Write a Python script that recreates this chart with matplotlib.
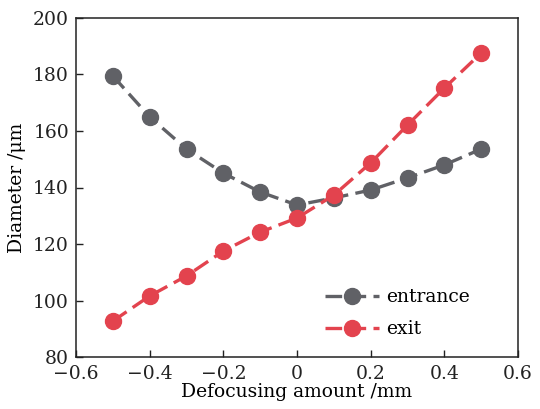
import numpy as np
import matplotlib
matplotlib.use('Agg')
import matplotlib.pyplot as plt

plt.rcParams['font.family'] = ['DejaVu Serif']
plt.rcParams['mathtext.fontset'] = 'dejavuserif'

# defocusing amount (mm) and measured hole diameters (um)
defocus = [-0.5, -0.4, -0.3, -0.2, -0.1, 0.0, 0.1, 0.2, 0.3, 0.4, 0.5]
entrance = [179.5, 165.0, 153.6, 145.1, 138.4, 133.8, 136.3, 139.1, 143.4, 148.0, 153.6]
exit_d = [92.7, 101.6, 108.7, 117.5, 124.2, 129.2, 137.3, 148.7, 162.1, 175.2, 187.6]

fig = plt.figure(figsize=(5.4, 4.09), dpi=100)
ax = fig.add_axes([76/540, 1-357/409, (518-76)/540, (357-18)/409])

ax.plot(defocus, entrance, color='#606166', lw=2.4, ls=(0, (5, 2.2)),
        marker='o', ms=11.5, label='entrance')
ax.plot(defocus, exit_d, color='#e3434e', lw=2.4, ls=(0, (5, 2.2)),
        marker='o', ms=11.5, label='exit')

ax.set_xlim(-0.6, 0.6)
ax.set_ylim(80, 200)
ax.set_xticks(np.arange(-0.6, 0.61, 0.2))
ax.set_xticklabels(['\u22120.6', '\u22120.4', '\u22120.2', '0', '0.2', '0.4', '0.6'])
ax.set_yticks(range(80, 201, 20))
ax.tick_params(direction='in', length=5, width=1, labelsize=13.5, colors='#222222')
ax.tick_params(axis='x', pad=6)
ax.tick_params(axis='y', pad=5)
for s in ax.spines.values():
    s.set_linewidth(1.1)
    s.set_color('#222222')

ax.set_xlabel('Defocusing amount /mm', fontsize=13.5, labelpad=0)
ax.set_ylabel('Diameter /\u03bcm', fontsize=13.5, labelpad=5)

ax.legend(loc='lower right', frameon=False, fontsize=13.5, handlelength=2.85,
          handletextpad=0.4, borderaxespad=0.5, labelspacing=0.75,
          bbox_to_anchor=(0.93, 0.005))

fig.savefig('out.png', dpi=100)
